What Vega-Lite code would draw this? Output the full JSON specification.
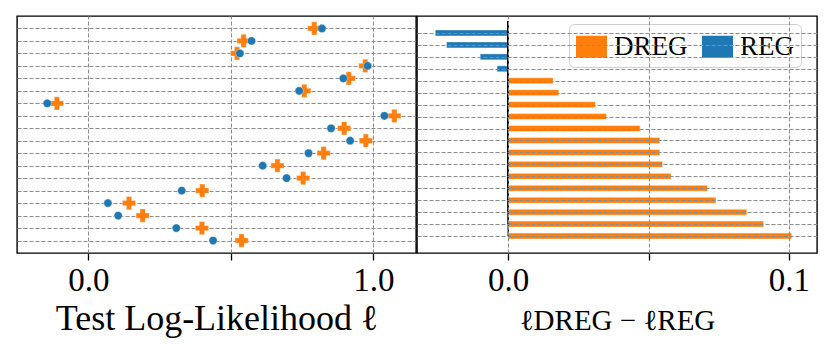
{
  "$schema": "https://vega.github.io/schema/vega-lite/v6.json",
  "padding": {"left": 16, "top": 15, "right": 10, "bottom": 5},
  "background": "white",
  "spacing": -4,
  "resolve": {"scale": {"color": "independent"}, "legend": {"color": "independent"}},
  "config": {
    "font": "Liberation Serif",
    "view": {"stroke": "black", "strokeWidth": 1.4},
    "axis": {
      "labelFont": "Liberation Serif",
      "titleFont": "Liberation Serif",
      "labelFontSize": 33,
      "titleFontSize": 36,
      "titleFontWeight": "normal",
      "labelColor": "black",
      "titleColor": "black",
      "domain": false,
      "tickColor": "black",
      "tickSize": 7,
      "tickWidth": 1.3,
      "gridColor": "#8c8c8c",
      "gridDash": [4, 2],
      "gridWidth": 1,
      "gridOpacity": 1,
      "labelPadding": 4,
      "titlePadding": 4
    },
    "legend": {
      "labelFont": "Liberation Serif",
      "labelFontSize": 27,
      "labelColor": "black"
    }
  },
  "data": {
    "values": [
      {"row": 1, "reg": 0.820, "dreg": 0.793, "diff": -0.026, "better": "REG"},
      {"row": 2, "reg": 0.573, "dreg": 0.545, "diff": -0.022, "better": "REG"},
      {"row": 3, "reg": 0.532, "dreg": 0.522, "diff": -0.010, "better": "REG"},
      {"row": 4, "reg": 0.980, "dreg": 0.972, "diff": -0.004, "better": "REG"},
      {"row": 5, "reg": 0.895, "dreg": 0.914, "diff": 0.016, "better": "DREG"},
      {"row": 6, "reg": 0.740, "dreg": 0.758, "diff": 0.018, "better": "DREG"},
      {"row": 7, "reg": -0.144, "dreg": -0.110, "diff": 0.031, "better": "DREG"},
      {"row": 8, "reg": 1.039, "dreg": 1.074, "diff": 0.035, "better": "DREG"},
      {"row": 9, "reg": 0.852, "dreg": 0.898, "diff": 0.047, "better": "DREG"},
      {"row": 10, "reg": 0.919, "dreg": 0.974, "diff": 0.054, "better": "DREG"},
      {"row": 11, "reg": 0.773, "dreg": 0.826, "diff": 0.054, "better": "DREG"},
      {"row": 12, "reg": 0.612, "dreg": 0.664, "diff": 0.055, "better": "DREG"},
      {"row": 13, "reg": 0.696, "dreg": 0.754, "diff": 0.058, "better": "DREG"},
      {"row": 14, "reg": 0.328, "dreg": 0.400, "diff": 0.071, "better": "DREG"},
      {"row": 15, "reg": 0.069, "dreg": 0.143, "diff": 0.074, "better": "DREG"},
      {"row": 16, "reg": 0.105, "dreg": 0.191, "diff": 0.085, "better": "DREG"},
      {"row": 17, "reg": 0.309, "dreg": 0.399, "diff": 0.091, "better": "DREG"},
      {"row": 18, "reg": 0.438, "dreg": 0.538, "diff": 0.101, "better": "DREG"}
    ]
  },
  "hconcat": [
    {
      "width": 399,
      "height": 237,
      "encoding": {
        "y": {
          "field": "row",
          "type": "quantitative",
          "scale": {"domain": [0, 19], "reverse": true, "nice": false, "zero": false},
          "axis": {"values": [1,2,3,4,5,6,7,8,9,10,11,12,13,14,15,16,17,18], "labels": false, "ticks": false, "title": null, "grid": true}
        }
      },
      "layer": [
        {
          "mark": {"type": "point", "shape": "cross", "filled": true, "size": 175, "color": "#ff7f0e", "opacity": 1, "stroke": "white", "strokeWidth": 0.6, "strokeOpacity": 0.6},
          "encoding": {
            "x": {
              "field": "dreg",
              "type": "quantitative",
              "scale": {"domain": [-0.25, 1.15], "nice": false, "zero": false},
              "axis": {
                "values": [0, 0.5, 1],
                "labelExpr": "datum.value == 0.5 ? '' : format(datum.value, '.1f')",
                "title": "Test Log-Likelihood ℓ",
                "grid": true
              }
            }
          }
        },
        {
          "mark": {"type": "point", "shape": "circle", "filled": true, "size": 68, "color": "#1f77b4", "opacity": 1, "stroke": "white", "strokeWidth": 0.6, "strokeOpacity": 0.6},
          "encoding": {
            "x": {"field": "reg", "type": "quantitative"}
          }
        }
      ]
    },
    {
      "width": 400,
      "height": 237,
      "encoding": {
        "y": {
          "field": "row",
          "type": "quantitative",
          "scale": {"domain": [0, 19], "reverse": true, "nice": false, "zero": false},
          "axis": {"values": [1,2,3,4,5,6,7,8,9,10,11,12,13,14,15,16,17,18], "labels": false, "ticks": false, "title": null, "grid": true, "zindex": 1}
        }
      },
      "layer": [
        {
          "mark": {"type": "bar", "orient": "horizontal", "size": 6, "strokeWidth": 1, "strokeOpacity": 0.45, "stroke": "white"},
          "encoding": {
            "x": {
              "field": "diff",
              "type": "quantitative",
              "scale": {"domain": [-0.0325, 0.11], "nice": false, "zero": false},
              "axis": {
                "values": [0, 0.05, 0.1],
                "labelExpr": "datum.value == 0 ? '0.0' : (datum.value == 0.05 ? '' : '0.1')",
                "title": "ℓDREG − ℓREG",
                "titleFontSize": 29,
                "titlePadding": 9,
                "grid": true,
                "zindex": 1
              }
            },
            "color": {
              "field": "better",
              "type": "nominal",
              "scale": {"domain": ["DREG", "REG"], "range": ["#ff7f0e", "#1f77b4"]},
              "legend": {
                "title": null,
                "orient": "none",
                "legendX": 152,
                "legendY": 8,
                "direction": "horizontal",
                "symbolType": "M-1,-0.71H1V0.71H-1Z",
                "symbolSize": 961,
                "symbolStrokeWidth": 0,
                "symbolOpacity": 1,
                "labelOffset": 7,
                "columnPadding": 14,
                "padding": 7,
                "fillColor": "rgba(255,255,255,0.8)",
                "strokeColor": "#d0d0d0",
                "cornerRadius": 5
              }
            }
          }
        },
        {
          "mark": {"type": "rule", "color": "black", "strokeWidth": 1.4},
          "encoding": {"x": {"datum": 0}}
        }
      ]
    }
  ]
}
